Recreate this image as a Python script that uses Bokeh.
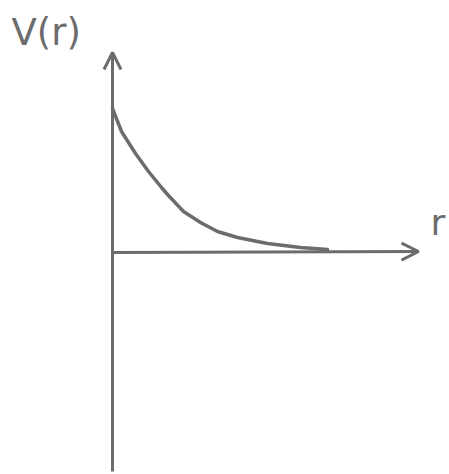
from bokeh.plotting import figure
from bokeh.models import Range1d, Arrow, OpenHead, Label
from bokeh.embed import file_html
from bokeh.resources import INLINE

# Sketched potential V(r): decays from a finite value at r=0 towards zero
r_vals = [0, 9, 23, 36, 49, 55, 71, 88, 105, 125, 155, 188, 215]
v_vals = [145, 122, 100, 82, 66, 59, 42, 31, 22, 16, 10, 6, 4]

y_label = "V(r)"
x_label = "r"

INK = "#6c6c6c"

p = figure(width=449, height=474, output_backend="svg", toolbar_location=None,
           x_range=Range1d(-112, 337), y_range=Range1d(-221, 253),
           min_border=0)
p.axis.visible = False
p.grid.visible = False
p.outline_line_color = None
p.background_fill_color = "white"
p.border_fill_color = "white"

# hand-drawn axes with open arrowheads
p.add_layout(Arrow(end=OpenHead(size=17, line_color=INK, line_width=3),
                   x_start=0, y_start=-218, x_end=0, y_end=201,
                   line_color=INK, line_width=3))
p.add_layout(Arrow(end=OpenHead(size=17, line_color=INK, line_width=3),
                   x_start=0, y_start=1, x_end=306, y_end=2,
                   line_color=INK, line_width=3))

# the curve
p.line(r_vals, v_vals, line_color=INK, line_width=3.5, line_join="round",
       line_cap="round")

p.add_layout(Label(x=-101, y=243, text=y_label, text_color=INK,
                   text_baseline="top",
                   text_font="DejaVu Sans", text_font_size="37px"))
p.add_layout(Label(x=318, y=52, text=x_label, text_color=INK,
                   text_baseline="top",
                   text_font="DejaVu Sans", text_font_size="36px"))

open("out.html", "w").write(file_html(p, INLINE))
